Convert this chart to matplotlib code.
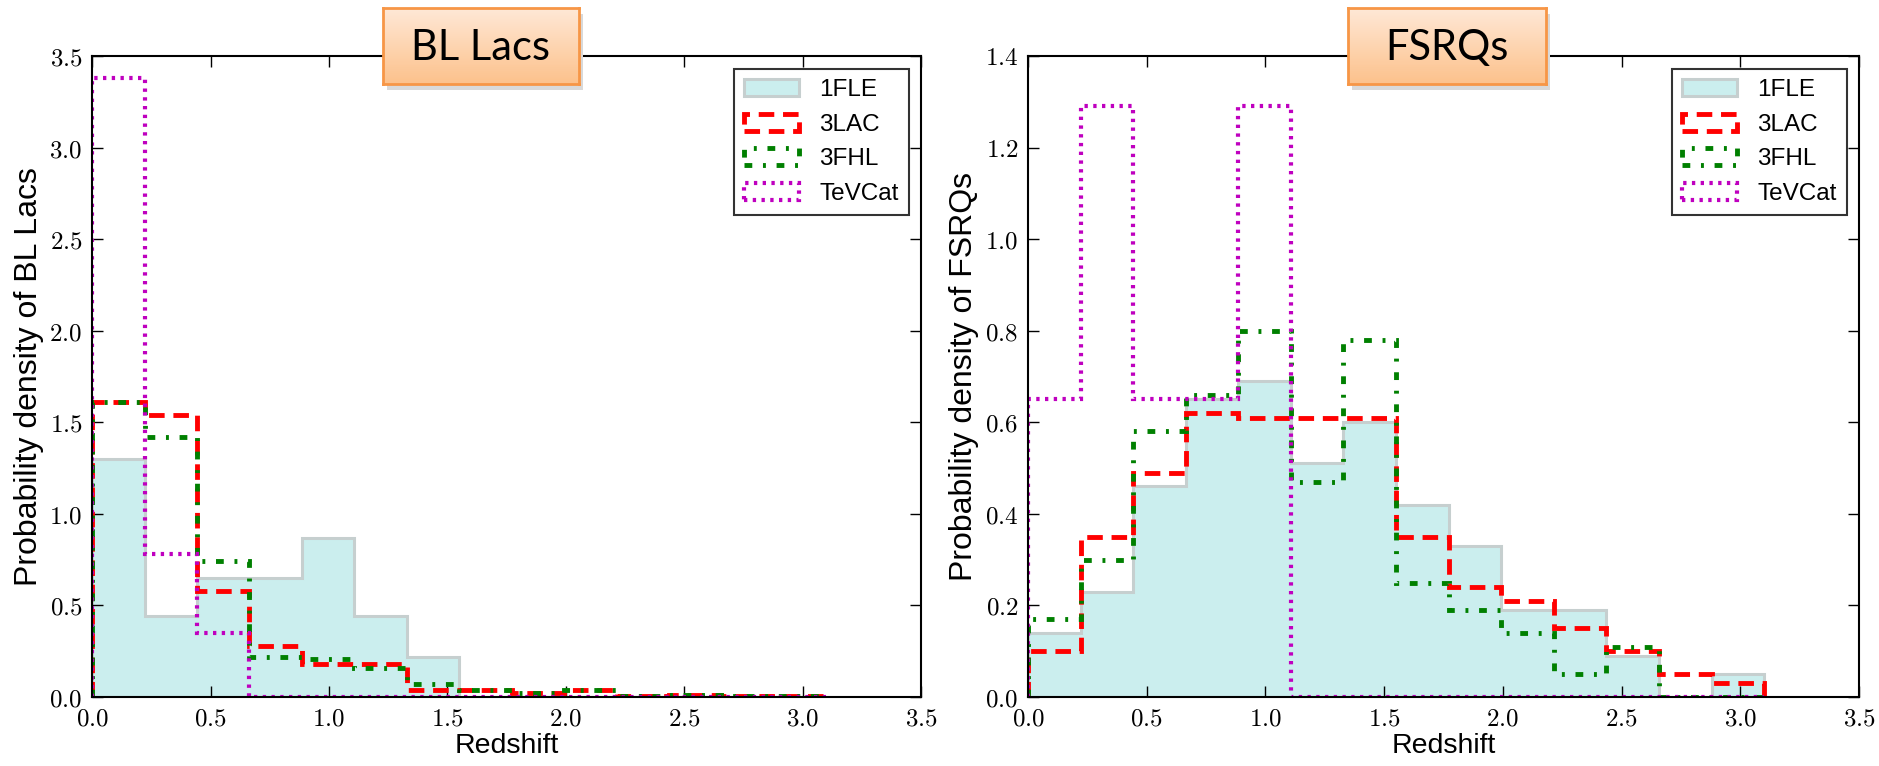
import numpy as np
import matplotlib
matplotlib.use('Agg')
import matplotlib.pyplot as plt
from matplotlib.ticker import FuncFormatter

plt.rcParams['mathtext.fontset'] = 'cm'
plt.rcParams['font.family'] = ['Liberation Sans', 'DejaVu Sans']

# 14 redshift bins between 0 and 3.1
edges = np.linspace(0.0, 3.1, 15)
centres = 0.5 * (edges[:-1] + edges[1:])

catalogs = ['1FLE', '3LAC', '3FHL', 'TeVCat']

# BL Lacs: probability density per bin
bll_1fle = [1.30, 0.44, 0.65, 0.65, 0.87, 0.44, 0.22, 0, 0, 0, 0, 0, 0, 0]
bll_3lac = [1.61, 1.54, 0.58, 0.28, 0.18, 0.18, 0.04, 0.04, 0.02, 0.04, 0.005, 0.01, 0.005, 0.003]
bll_3fhl = [1.61, 1.42, 0.74, 0.22, 0.21, 0.16, 0.07, 0.04, 0.02, 0.04, 0.005, 0.01, 0.005, 0.005]
bll_tevcat = [3.38, 0.78, 0.35, 0, 0, 0, 0, 0, 0, 0, 0, 0, 0, 0]

# FSRQs: probability density per bin
fsrq_1fle = [0.14, 0.23, 0.46, 0.65, 0.69, 0.51, 0.60, 0.42, 0.33, 0.19, 0.19, 0.09, 0, 0.05]
fsrq_3lac = [0.10, 0.35, 0.49, 0.62, 0.61, 0.61, 0.61, 0.35, 0.24, 0.21, 0.15, 0.10, 0.05, 0.03]
fsrq_3fhl = [0.17, 0.30, 0.58, 0.66, 0.80, 0.47, 0.78, 0.25, 0.19, 0.14, 0.05, 0.11, 0, 0]
fsrq_tevcat = [0.65, 1.29, 0.65, 0.65, 1.29, 0, 0, 0, 0, 0, 0, 0, 0, 0]

fig = plt.figure(figsize=(18.79, 7.66), dpi=100)
ax1 = fig.add_axes([0.0490, 0.0901, 0.4412, 0.8368])
ax2 = fig.add_axes([0.5471, 0.0901, 0.4423, 0.8368])

cm_fmt = FuncFormatter(lambda v, p: r'$%.1f$' % v)


def draw_panel(ax, d1, d2, d3, d4, ymax, ylabel):
    ax.hist(centres, bins=edges, weights=d1, histtype='stepfilled',
            facecolor='#cbeeee', edgecolor='#c6cfcf', linewidth=2.2, label=catalogs[0])
    ax.hist(centres, bins=edges, weights=d2, histtype='step', color='red',
            linestyle=(0, (3.2, 1.8)), linewidth=3.5, label=catalogs[1])
    ax.hist(centres, bins=edges, weights=d3, histtype='step', color='green',
            linestyle=(0, (1.6, 2.2, 0.6, 2.2)), linewidth=3.5, label=catalogs[2])
    ax.hist(centres, bins=edges, weights=d4, histtype='step', color='m',
            linestyle=(0, (0.8, 1.3)), linewidth=3, label=catalogs[3])
    ax.set_xlim(0, 3.5)
    ax.set_ylim(0, ymax)
    ax.set_xticks(np.arange(0, 3.51, 0.5))
    ax.set_yticks(np.arange(0, ymax + 0.01, 0.5 if ymax > 2 else 0.2))
    ax.xaxis.set_major_formatter(cm_fmt)
    ax.yaxis.set_major_formatter(cm_fmt)
    ax.tick_params(direction='in', length=8, width=1, top=True, right=True,
                   labelsize=18, pad=7)
    for s in ax.spines.values():
        s.set_linewidth(1.5)
    ax.set_xlabel('Redshift', fontsize=20.5, labelpad=2)
    ax.set_ylabel(ylabel, fontsize=23, labelpad=4)
    leg = ax.legend(loc='upper right', fontsize=17.5, fancybox=False,
                    handlelength=2.26, handleheight=0.7, borderpad=0.42,
                    labelspacing=0.52, handletextpad=0.82, borderaxespad=0,
                    bbox_to_anchor=(0.985, 0.98))
    leg.get_frame().set_edgecolor('black')
    leg.get_frame().set_linewidth(1.5)


draw_panel(ax1, bll_1fle, bll_3lac, bll_3fhl, bll_tevcat, 3.5,
           'Probability density of BL Lacs')
draw_panel(ax2, fsrq_1fle, fsrq_3lac, fsrq_3fhl, fsrq_tevcat, 1.4,
           'Probability density of FSRQs')

# orange gradient title boxes
grad = np.linspace(0, 1, 64).reshape(-1, 1)
top_c = np.array([1.0, 0.91, 0.84])
bot_c = np.array([0.99, 0.76, 0.55])
img = top_c * (1 - grad[..., None]) + bot_c * grad[..., None]

for rect, title in [([0.2038, 0.890, 0.1043, 0.099], 'BL Lacs'),
                    ([0.7174, 0.890, 0.1054, 0.099], 'FSRQs')]:
    sh = fig.add_axes([rect[0] + 0.002, rect[1] - 0.007, rect[2], rect[3]])
    sh.set_facecolor('#d9d9d9')
    sh.set_xticks([])
    sh.set_yticks([])
    for s in sh.spines.values():
        s.set_visible(False)
    tb = fig.add_axes(rect)
    tb.imshow(img, aspect='auto', extent=[0, 1, 0, 1])
    tb.set_xlim(0, 1)
    tb.set_ylim(0, 1)
    tb.set_xticks([])
    tb.set_yticks([])
    for s in tb.spines.values():
        s.set_edgecolor('#f79646')
        s.set_linewidth(2)
    tb.text(0.5, 0.48, title, ha='center', va='center', fontsize=30,
            family=['Lato', 'DejaVu Sans'])

fig.savefig('out.png', dpi=100)
